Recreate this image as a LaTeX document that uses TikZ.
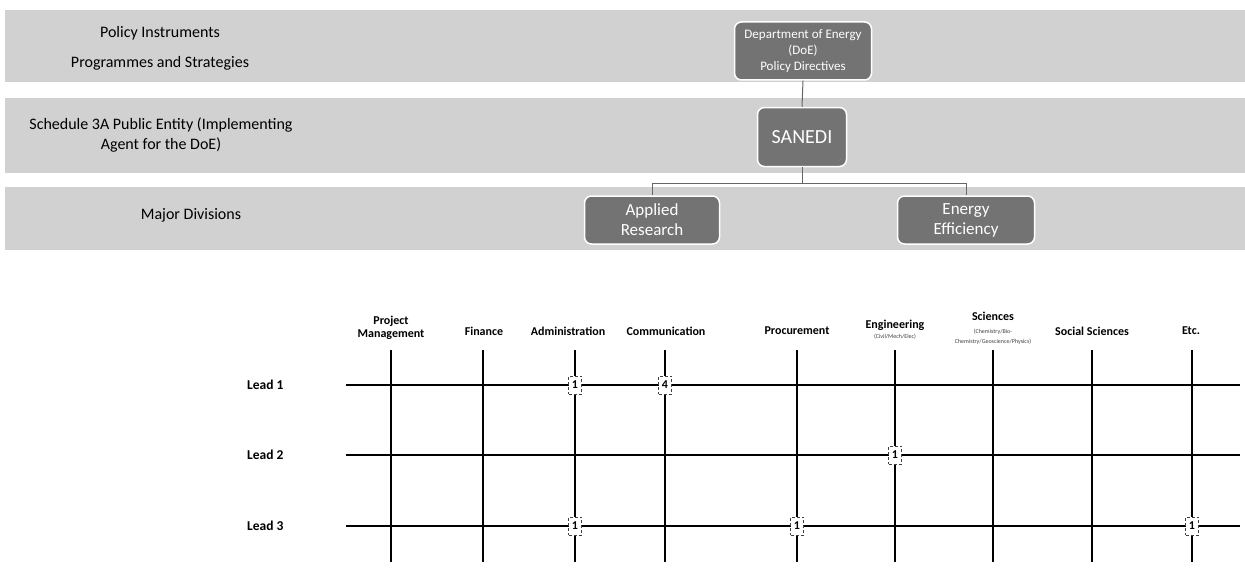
\documentclass[tikz,border=0pt]{standalone}
\usepackage{fontspec}
\setmainfont{Carlito}
\usetikzlibrary{positioning}

\tikzset{
  band/.style={fill=black!18, draw=none},
  orgbox/.style={draw=white, line width=1.5pt, fill=black!55, rounded corners=7pt,
    text=white, align=center, inner sep=2pt},
  conn/.style={draw=black!60, line width=1pt},
  tierlabel/.style={font=\fontsize{16}{20}\selectfont, align=center},
  colhead/.style={font=\bfseries\fontsize{12}{13}\selectfont, align=center, inner sep=1pt},
  subhead/.style={font=\fontsize{6}{7}\selectfont, align=center, inner sep=0pt, text=black!75},
  leadlabel/.style={font=\bfseries\fontsize{13.5}{15}\selectfont, inner sep=0pt},
  gridline/.style={draw=black, line width=1.6pt},
  count/.style={draw=black!75, densely dashed, fill=white, line width=0.8pt, inner sep=0pt,
    minimum width=13pt, minimum height=18pt, font=\bfseries\fontsize{12}{13}\selectfont},
}

\begin{document}
\begin{tikzpicture}[x=1pt, y=-1pt]
    \useasboundingbox (0,0) rectangle (1245,578);

    % Tier bands
    \fill[band] (5,10) rectangle (1245,82);
    \fill[band] (5,98) rectangle (1245,173);
    \fill[band] (5,187) rectangle (1245,250);

    % Tier labels
    \node[tierlabel] (policy) at (160,33) {Policy Instruments};
    \node[tierlabel] (programmes) at (160,63) {Programmes and Strategies};
    \node[tierlabel] (schedule) at (161,135) {Schedule 3A Public Entity (Implementing\\Agent for the DoE)};
    \node[tierlabel] (divisions) at (191,215) {Major Divisions};

    % Organisation boxes
    \node[orgbox, minimum width=137pt, minimum height=58pt,
          font=\fontsize{13}{16}\selectfont] (doe) at (803,51)
          {Department of Energy\\(DoE)\\Policy Directives};
    \node[orgbox, minimum width=89pt, minimum height=59pt,
          font=\fontsize{20}{22}\selectfont] (sanedi) at (802,137) {SANEDI};
    \node[orgbox, minimum width=135pt, minimum height=48pt,
          font=\fontsize{17}{20}\selectfont] (applied) at (652,220) {Applied\\Research};
    \node[orgbox, minimum width=137pt, minimum height=48pt,
          font=\fontsize{17}{20}\selectfont] (efficiency) at (966,220) {Energy\\Efficiency};

    % Connectors
    \draw[conn] (doe.south) -- (sanedi.north);
    \draw[conn] (sanedi.south) -- ++(0,16) -| (applied.north);
    \draw[conn] (sanedi.south) -- ++(0,16) -| (efficiency.north);

    % Skill columns
    \foreach \name/\x in {pm/391, fin/483, adm/575, com/665, proc/797,
                          eng/895, sci/993, soc/1092, etc/1192} {
        \coordinate (\name-top) at (\x,350);
        \coordinate (\name-bot) at (\x,562);
        \draw[gridline] (\name-top) -- (\name-bot);
    }

    % Lead rows
    \foreach \i/\y in {1/385, 2/455, 3/526} {
        \node[leadlabel, anchor=west] (lead\i) at (247,\y) {Lead \i};
        \coordinate (row\i-start) at (346,\y);
        \coordinate (row\i-end) at (1240,\y);
        \draw[gridline] (row\i-start) -- (row\i-end);
    }

    % Column headings
    \node[colhead] (h-pm) at (391,328) {Project\\Management};
    \node[colhead] (h-fin) at (484,331) {Finance};
    \node[colhead] (h-adm) at (568,331) {Administration};
    \node[colhead] (h-com) at (666,331) {Communication};
    \node[colhead] (h-proc) at (797,331) {Procurement};
    \node[colhead] (h-eng) at (895,325) {Engineering};
    \node[subhead] (s-eng) at (895,337) {(Civil/Mech/Elec)};
    \node[colhead] (h-sci) at (993,316) {Sciences};
    \node[subhead] (s-sci) at (993,337) {(Chemistry/Bio-\\[3pt]Chemistry/Geoscience/Physics)};
    \node[colhead] (h-soc) at (1092,331) {Social Sciences};
    \node[colhead] (h-etc) at (1191,331) {Etc.};

    % Counts
    \node[count] (n-1-adm) at (adm-top |- row1-start) {1};
    \node[count] (n-1-com) at (com-top |- row1-start) {4};
    \node[count] (n-2-eng) at (eng-top |- row2-start) {1};
    \node[count] (n-3-adm) at (adm-top |- row3-start) {1};
    \node[count] (n-3-proc) at (proc-top |- row3-start) {1};
    \node[count] (n-3-etc) at (etc-top |- row3-start) {1};
\end{tikzpicture}
\end{document}
